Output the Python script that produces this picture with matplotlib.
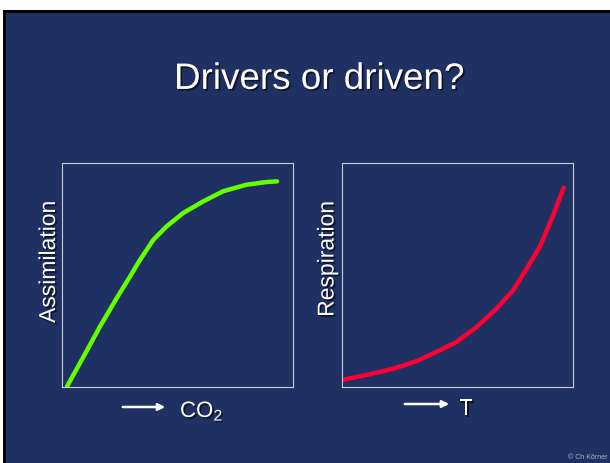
import matplotlib
matplotlib.use('Agg')
import matplotlib.pyplot as plt
import matplotlib.patheffects as pe
from matplotlib.patches import Rectangle

plt.rcParams['font.family'] = ['Liberation Sans', 'DejaVu Sans']
plt.rcParams['mathtext.fontset'] = 'custom'
plt.rcParams['mathtext.rm'] = 'Liberation Sans'

# Datos (ejes sin escala: 0..1)
co2 = [0.022, 0.094, 0.165, 0.237, 0.295, 0.338, 0.396, 0.453, 0.525,
       0.612, 0.698, 0.799, 0.885, 0.931]
asimilacion = [0.003, 0.137, 0.271, 0.397, 0.494, 0.568, 0.658, 0.717, 0.777,
               0.829, 0.874, 0.903, 0.915, 0.918]

temperatura = [0.007, 0.122, 0.223, 0.324, 0.424, 0.496, 0.583, 0.669,
               0.741, 0.799, 0.856, 0.914, 0.960]
respiracion = [0.033, 0.057, 0.082, 0.116, 0.164, 0.201, 0.268, 0.350,
               0.432, 0.528, 0.625, 0.766, 0.890]

titulo = 'Drivers or driven?'
etiquetas_y = ['Assimilation', 'Respiration']
etiquetas_x = [r'CO$_\mathrm{2}$', 'T']

fondo = '#1f3162'
sombra = [pe.withSimplePatchShadow(offset=(1.2, -1.2), shadow_rgbFace='black', alpha=0.6)]

fig = plt.figure(figsize=(6.1, 4.63), dpi=100, facecolor='white')

# marco negro y fondo azul de la diapositiva
fig.patches.append(Rectangle((3 / 610, 0), 1, 1 - 10 / 463, transform=fig.transFigure,
                             facecolor='black', edgecolor='none', zorder=-2))
fig.patches.append(Rectangle((5.5 / 610, 0), 1, 1 - 13 / 463, transform=fig.transFigure,
                             facecolor=fondo, edgecolor='none', zorder=-1))

fig.text(0.523, 0.808, titulo, ha='center', va='baseline', fontsize=26.5,
         color='white', path_effects=sombra)

ax1 = fig.add_axes([62 / 610, 76 / 463, 231 / 610, 224 / 463])
ax2 = fig.add_axes([342 / 610, 76 / 463, 231 / 610, 224 / 463])

ax1.plot(co2, asimilacion, color='#66ff00', linewidth=3.2, solid_capstyle='round',
         solid_joinstyle='round')
ax2.plot(temperatura, respiracion, color='#ff0033', linewidth=3.2, solid_capstyle='round',
         solid_joinstyle='round')

for ax in [ax1, ax2]:
    ax.set_facecolor(fondo)
    ax.set_xlim(0, 1)
    ax.set_ylim(0, 1)
    ax.set_xticks([])
    ax.set_yticks([])
    for s in ax.spines.values():
        s.set_color('#c8ccd8')
        s.set_linewidth(0.8)

# etiquetas de eje y
fig.text(48.5 / 610, 1 - 262 / 463, etiquetas_y[0], rotation=90, ha='center', va='center',
         fontsize=16.5, color='white', path_effects=sombra)
fig.text(327 / 610, 1 - 259 / 463, etiquetas_y[1], rotation=90, ha='center', va='center',
         fontsize=16.5, color='white', path_effects=sombra)

# flechas y etiquetas de eje x
fig.add_artist(plt.Annotation('', xy=(168 / 610, 1 - 407 / 463), xytext=(120 / 610, 1 - 407 / 463),
                              xycoords='figure fraction', textcoords='figure fraction',
                              arrowprops=dict(arrowstyle='-|>', color='white', lw=1.8,
                                              mutation_scale=10)))
fig.add_artist(plt.Annotation('', xy=(452 / 610, 1 - 404 / 463), xytext=(402 / 610, 1 - 404 / 463),
                              xycoords='figure fraction', textcoords='figure fraction',
                              arrowprops=dict(arrowstyle='-|>', color='white', lw=1.8,
                                              mutation_scale=10)))
fig.text(180 / 610, 1 - 417 / 463, etiquetas_x[0], ha='left', va='baseline',
         fontsize=16, color='white', path_effects=sombra)
fig.text(459 / 610, 1 - 415 / 463, etiquetas_x[1], ha='left', va='baseline',
         fontsize=16.5, color='white', path_effects=sombra)

fig.text(607 / 610, 2 / 463, '© Ch Körner', ha='right', va='bottom',
         fontsize=5, color='#aab0c4')

plt.savefig('out.png', dpi=100, facecolor=fig.get_facecolor())
plt.close()
